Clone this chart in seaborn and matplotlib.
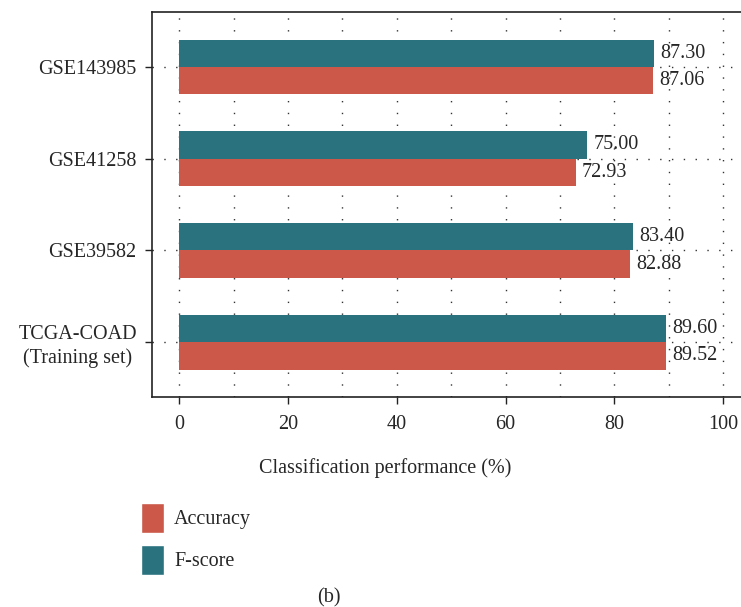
import pandas as pd
import matplotlib.pyplot as plt
import seaborn as sns
from matplotlib.patches import Patch
from matplotlib.ticker import MultipleLocator

# Values
datasets = ["GSE143985", "GSE41258", "GSE39582", "TCGA-COAD\n(Training set)"]
accuracy = [87.06, 72.93, 82.88, 89.52]
fscore = [87.30, 75.00, 83.40, 89.60]
metrics = ["F-score", "Accuracy"]
colors = {"Accuracy": "#CB5849", "F-score": "#2A727E"}

df = pd.DataFrame({
    "dataset": datasets * 2,
    "metric": ["Accuracy"] * len(datasets) + ["F-score"] * len(datasets),
    "value": accuracy + fscore,
})

sns.set_style("ticks")
plt.rcParams["font.family"] = ["Liberation Serif", "DejaVu Serif"]
fs = 14.5

fig = plt.figure(figsize=(7.41, 6.07), dpi=100)
ax = fig.add_axes([152 / 741, 1 - 397 / 607, 1 - 152 / 741, (397 - 12) / 607])

sns.barplot(data=df, x="value", y="dataset", hue="metric", hue_order=metrics,
            order=datasets, palette=colors, orient="h", width=0.6,
            saturation=1, edgecolor="none", linewidth=0, legend=False, ax=ax)

for cont in ax.containers:
    ax.bar_label(cont, fmt="%.2f", padding=4.5, fontsize=fs)

ax.set_xlim(-5, 103.3)
ax.set_ylim(3.6, -0.6)
ax.xaxis.set_major_locator(MultipleLocator(20))
ax.xaxis.set_minor_locator(MultipleLocator(10))
ax.set_axisbelow(True)
dots = (0, (1, 7.5))
ax.grid(True, axis="x", which="both", color="#333333", linestyle=dots, linewidth=1)
ax.grid(True, axis="y", which="major", color="#333333", linestyle=dots, linewidth=1)
ax.tick_params(axis="x", which="minor", length=0)
ax.tick_params(axis="both", which="major", length=5, width=1, direction="out",
               labelsize=fs, color="#222222")
ax.tick_params(axis="y", pad=6)
ax.tick_params(axis="x", pad=8)
ax.set_xlabel("")
ax.set_ylabel("")
for lbl in ax.get_yticklabels():
    lbl.set_multialignment("center")
    lbl.set_linespacing(1.3)

for side in ["left", "top", "bottom"]:
    ax.spines[side].set_linewidth(1.2)
    ax.spines[side].set_color("#222222")
ax.spines["right"].set_visible(False)

fig.text(385 / 741, 1 - 468 / 607, "Classification performance (%)",
         ha="center", va="center", fontsize=fs)

handles = [Patch(facecolor=colors["Accuracy"], label="Accuracy"),
           Patch(facecolor=colors["F-score"], label="F-score")]
fig.legend(handles=handles, loc="upper left", bbox_to_anchor=(141 / 741, 1 - 503 / 607),
           frameon=False, fontsize=fs, handlelength=1.15, handleheight=1.9,
           handletextpad=0.5, labelspacing=0.6, borderpad=0, borderaxespad=0)

fig.text(329 / 741, 1 - 598 / 607, "(b)", ha="center", va="center", fontsize=fs)

fig.savefig("out.png", dpi=100)
